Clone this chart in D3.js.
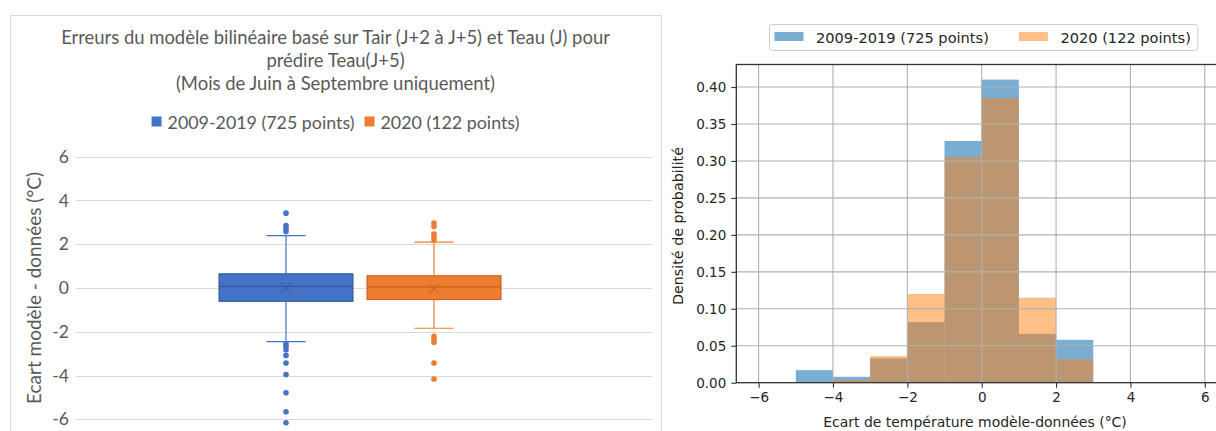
<!DOCTYPE html>
<html><head><meta charset="utf-8">
<script src="https://cdn.jsdelivr.net/npm/d3@7"></script>
<style>body{margin:0;background:#fff;overflow:hidden}</style>
</head><body><svg id="c" width="1216" height="431"></svg>
<script>
// ---------- Left chart data (Excel box plot) ----------
const titleLines = ["Erreurs du modèle bilinéaire basé sur Tair (J+2 à J+5) et Teau (J) pour", "prédire Teau(J+5)", "(Mois de Juin à Septembre  uniquement)"];
const boxSeries = ["2009-2019 (725 points)", "2020 (122 points)"];
const boxColors = ["#4472C4", "#ED7D31"];
const boxDark = ["#2F5597", "#C55A11"];
const boxQ1 = [-0.61, -0.53];
const boxMedian = [0.07, 0.05];
const boxQ3 = [0.65, 0.56];
const boxMean = [0.01, -0.03];
const boxWhiskerLow = [-2.45, -1.84];
const boxWhiskerHigh = [2.39, 2.10];
const boxOutliers = [
  [3.42, 2.85, 2.72, 2.58, -2.55, -2.67, -2.82, -3.08, -3.43, -3.95, -4.79, -5.66, -6.16],
  [2.97, 2.81, 2.47, 2.34, 2.20, -2.21, -2.36, -2.48, -3.43, -4.16]
];
const leftYTicks = [-6, -4, -2, 0, 2, 4, 6];
const leftYTitle = "Ecart modèle - données (°C)";

// ---------- Right chart data (matplotlib histogram) ----------
const binEdges = [-5, -4, -3, -2, -1, 0, 1, 2, 3];
const densityHist2009 = [0.017, 0.008, 0.033, 0.082, 0.327, 0.410, 0.066, 0.058];
const densityHist2020 = [0.000, 0.004, 0.036, 0.120, 0.305, 0.385, 0.115, 0.032];
const histSeries = ["2009-2019 (725 points)", "2020 (122 points)"];
const rightXTicks = [-6, -4, -2, 0, 2, 4, 6];
const rightYTicks = [0, 0.05, 0.10, 0.15, 0.20, 0.25, 0.30, 0.35, 0.40];
const rightXTitle = "Ecart de température modèle-données (°C)";
const rightYTitle = "Densité de probabilité";

const svg = d3.select("#c");
svg.append("rect").attr("width", 1216).attr("height", 431).attr("fill", "#fff");

function fit(sel, target) {
  sel.attr("font-size", 100);
  const w = sel.node().getComputedTextLength();
  const fs = 100 * target / w;
  sel.attr("font-size", fs);
  return fs;
}

// =============== LEFT ===============
const L = svg.append("g");
const lFont = "Lato, 'Open Sans', sans-serif";
const gray = "#595959";
L.append("rect").attr("x", 10.5).attr("y", 15.5).attr("width", 651).attr("height", 430)
  .attr("fill", "#fff").attr("stroke", "#d9d9d9").attr("stroke-width", 1);

const tY = [37, 60, 83];
let tfs = 16;
titleLines.forEach((t, i) => {
  const tx = L.append("text").attr("x", 335.5).attr("y", tY[i]).attr("text-anchor", "middle")
    .attr("dominant-baseline", "central").attr("font-family", lFont).attr("fill", gray).text(t);
  if (i === 0) tfs = fit(tx, 549); else tx.attr("font-size", tfs);
});

// legend
const legG = L.append("g");
const legTexts = [];
let lx = 0;
boxSeries.forEach((s, i) => {
  const g = legG.append("g");
  g.append("rect").attr("x", lx).attr("y", -5.5).attr("width", 10).attr("height", 10).attr("fill", boxColors[i]);
  const t = g.append("text").attr("x", lx + 16).attr("y", 0).attr("dominant-baseline", "central")
    .attr("font-family", lFont).attr("fill", gray).text(s);
  if (i === 0) fit(t, 187); else t.attr("font-size", legTexts[0].attr("font-size"));
  legTexts.push(t);
  lx += 16 + t.node().getComputedTextLength() + 10;
});
const legW = lx - 10;
legG.attr("transform", `translate(${335.5 - legW / 2},122)`);

const yL = d3.scaleLinear().domain([-6, 6]).range([419.3, 156.7]);
const xL = d3.scaleBand().domain(boxSeries).range([219, 501]).paddingInner(0.0946).paddingOuter(0);

L.selectAll(".lg").data(leftYTicks).join("line")
  .attr("x1", 76).attr("x2", 652).attr("y1", d => Math.round(yL(d)) + 0.5).attr("y2", d => Math.round(yL(d)) + 0.5)
  .attr("stroke", "#d9d9d9").attr("stroke-width", 1);
const yAxisL = d3.axisLeft(yL).tickValues(leftYTicks).tickSize(0).tickPadding(0).tickFormat(d => String(d));
const gyl = L.append("g").attr("transform", "translate(69,0)").call(yAxisL);
gyl.select(".domain").remove();
gyl.selectAll("text").attr("font-family", lFont).attr("font-size", 17.5).attr("fill", gray);

const yt = L.append("text").attr("transform", `translate(33,${yL(0)}) rotate(-90)`).attr("text-anchor", "middle")
  .attr("dominant-baseline", "central").attr("font-family", lFont).attr("fill", gray).text(leftYTitle);
fit(yt, 232);

boxSeries.forEach((s, i) => {
  const g = L.append("g");
  const x0 = xL(s), bw = xL.bandwidth(), cx = x0 + bw / 2;
  g.append("line").attr("x1", cx).attr("x2", cx).attr("y1", yL(boxWhiskerHigh[i])).attr("y2", yL(boxQ3[i]))
    .attr("stroke", boxColors[i]).attr("stroke-width", 1.2);
  g.append("line").attr("x1", cx).attr("x2", cx).attr("y1", yL(boxQ1[i])).attr("y2", yL(boxWhiskerLow[i]))
    .attr("stroke", boxColors[i]).attr("stroke-width", 1.2);
  [boxWhiskerHigh[i], boxWhiskerLow[i]].forEach(v => {
    g.append("line").attr("x1", cx - 19.5).attr("x2", cx + 19.5).attr("y1", yL(v)).attr("y2", yL(v))
      .attr("stroke", boxColors[i]).attr("stroke-width", 1.2);
  });
  g.append("rect").attr("x", x0).attr("y", yL(boxQ3[i])).attr("width", bw).attr("height", yL(boxQ1[i]) - yL(boxQ3[i]))
    .attr("fill", boxColors[i]).attr("stroke", boxDark[i]).attr("stroke-width", 1);
  g.append("line").attr("x1", x0).attr("x2", x0 + bw).attr("y1", yL(boxMedian[i])).attr("y2", yL(boxMedian[i]))
    .attr("stroke", boxDark[i]).attr("stroke-width", 1);
  const my = yL(boxMean[i]), m = 5;
  g.append("path").attr("d", `M${cx - m},${my - m}L${cx + m},${my + m}M${cx - m},${my + m}L${cx + m},${my - m}`)
    .attr("stroke", boxDark[i]).attr("stroke-width", 1);
  g.selectAll("circle").data(boxOutliers[i]).join("circle")
    .attr("cx", cx).attr("cy", d => yL(d)).attr("r", 2.8).attr("fill", boxColors[i]);
});

// =============== RIGHT ===============
const R = svg.append("g");
const rFont = "'DejaVu Sans', sans-serif";
const ink = "#262626";
const xR = d3.scaleLinear().domain([-6.6, 6.6]).range([736.3, 1227.1]);
const yR = d3.scaleLinear().domain([0, 0.4305]).range([382.7, 64.5]);

R.append("clipPath").attr("id", "pc").append("rect")
  .attr("x", xR(-6.6)).attr("y", yR(0.4305)).attr("width", xR(6.6) - xR(-6.6)).attr("height", yR(0) - yR(0.4305));

const bins = binEdges.slice(0, -1).map((e, i) => ({ x0: e, x1: binEdges[i + 1] }));
R.append("g").selectAll("rect").data(bins).join("rect")
  .attr("x", d => xR(d.x0)).attr("width", d => xR(d.x1) - xR(d.x0))
  .attr("y", (d, i) => yR(densityHist2009[i])).attr("height", (d, i) => yR(0) - yR(densityHist2009[i]))
  .attr("fill", "#1f77b4").attr("fill-opacity", 0.6);
R.append("g").selectAll("rect").data(bins).join("rect")
  .attr("x", d => xR(d.x0)).attr("width", d => xR(d.x1) - xR(d.x0))
  .attr("y", (d, i) => yR(densityHist2020[i])).attr("height", (d, i) => yR(0) - yR(densityHist2020[i]))
  .attr("fill", "#ff7f0e").attr("fill-opacity", 0.5);

const grid = R.append("g").attr("clip-path", "url(#pc)");
grid.selectAll(".gx").data(rightXTicks).join("line")
  .attr("x1", d => xR(d)).attr("x2", d => xR(d)).attr("y1", yR(0.4305)).attr("y2", yR(0))
  .attr("stroke", "#b0b0b0").attr("stroke-width", 1.1);
grid.selectAll(".gy").data(rightYTicks).join("line")
  .attr("x1", xR(-6.6)).attr("x2", xR(6.6)).attr("y1", d => yR(d)).attr("y2", d => yR(d))
  .attr("stroke", "#b0b0b0").attr("stroke-width", 1.1);

R.append("rect").attr("x", xR(-6.6)).attr("y", yR(0.4305)).attr("width", xR(6.6) - xR(-6.6)).attr("height", yR(0) - yR(0.4305))
  .attr("fill", "none").attr("stroke", "#333").attr("stroke-width", 1.3);

const xAxisR = d3.axisBottom(xR).tickValues(rightXTicks).tickSize(5).tickPadding(5)
  .tickFormat(d => d < 0 ? "\u2212" + Math.abs(d) : String(d));
const gxr = R.append("g").attr("transform", `translate(0,${yR(0)})`).call(xAxisR);
gxr.select(".domain").remove();
gxr.selectAll("line").attr("stroke", "#333").attr("stroke-width", 1.1);
gxr.selectAll("text").attr("font-family", rFont).attr("font-size", 13.5).attr("fill", ink);

const yAxisR = d3.axisLeft(yR).tickValues(rightYTicks).tickSize(5).tickPadding(5).tickFormat(d3.format(".2f"));
const gyr = R.append("g").attr("transform", `translate(${xR(-6.6)},0)`).call(yAxisR);
gyr.select(".domain").remove();
gyr.selectAll("line").attr("stroke", "#333").attr("stroke-width", 1.1);
gyr.selectAll("text").attr("font-family", rFont).attr("font-size", 13.5).attr("fill", ink);

const xtR = R.append("text").attr("x", 975).attr("y", 422).attr("text-anchor", "middle")
  .attr("dominant-baseline", "central").attr("font-family", rFont).attr("fill", ink).text(rightXTitle);
fit(xtR, 304);
const ytR = R.append("text").attr("transform", `translate(678,226) rotate(-90)`).attr("text-anchor", "middle")
  .attr("dominant-baseline", "central").attr("font-family", rFont).attr("fill", ink).text(rightYTitle);
fit(ytR, 158);

const lgR = R.append("g");
const lgBox = lgR.append("rect").attr("x", 769.5).attr("y", 24.5).attr("height", 26).attr("rx", 3)
  .attr("fill", "#fff").attr("fill-opacity", 0.8).attr("stroke", "#cccccc").attr("stroke-width", 1);
let rx = 774.5;
const histCol = ["#1f77b4", "#ff7f0e"], histOp = [0.6, 0.5];
let rfs = 13.5;
histSeries.forEach((s, i) => {
  lgR.append("rect").attr("x", rx).attr("y", 32).attr("width", 29).attr("height", 9)
    .attr("fill", histCol[i]).attr("fill-opacity", histOp[i]);
  const t = lgR.append("text").attr("x", rx + 41.5).attr("y", 37).attr("dominant-baseline", "central")
    .attr("font-family", rFont).attr("fill", ink).text(s);
  if (i === 0) rfs = fit(t, 173); else t.attr("font-size", rfs);
  rx = rx + 41.5 + t.node().getComputedTextLength() + 30;
});
lgBox.attr("width", rx - 30 + 7 - 769.5);
</script>
</body></html>
